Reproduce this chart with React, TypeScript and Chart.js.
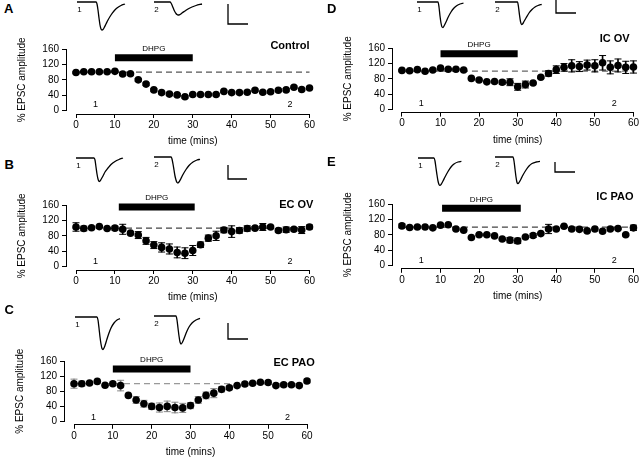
import React, { useEffect, useRef } from "react";
import { Chart, registerables } from "chart.js";

Chart.register(...registerables);

const FONT = "'Liberation Sans', Arial, Helvetica, sans-serif";

// ---------------- data ----------------
const timeMins = [0, 2, 4, 6, 8, 10, 12, 14, 16, 18, 20, 22, 24, 26, 28, 30, 32, 34, 36, 38, 40, 42, 44, 46, 48, 50, 52, 54, 56, 58, 60];
const xTickValues = [0, 10, 20, 30, 40, 50, 60];
const yTickValues = [0, 40, 80, 120, 160];

const controlMean = [99, 101, 101, 101, 101, 102, 95, 96, 80, 69, 54, 47, 43, 41, 36, 42, 42, 42, 42, 50, 47, 47, 48, 53, 48, 49, 53, 54, 61, 55, 59];
const controlErr = [2, 2, 2, 2, 2, 2, 3, 3, 3, 3, 3, 3, 3, 3, 3, 3, 3, 3, 3, 3, 3, 3, 3, 3, 3, 3, 3, 3, 3, 3, 3];
const ecOvMean = [103, 99, 101, 104, 99, 100, 97, 87, 82, 67, 56, 50, 46, 37, 35, 42, 57, 74, 80, 95, 91, 94, 99, 100, 103, 103, 94, 96, 97, 95, 103];
const ecOvErr = [11, 6, 2, 2, 2, 5, 13, 3, 9, 9, 9, 12, 13, 14, 14, 13, 7, 8, 12, 7, 15, 7, 7, 4, 9, 4, 4, 7, 4, 9, 5];
const ecPaoMean = [100, 100, 102, 106, 96, 100, 95, 69, 57, 47, 40, 37, 40, 37, 36, 42, 57, 69, 75, 85, 89, 95, 99, 101, 104, 103, 95, 97, 97, 95, 107];
const ecPaoErr = [12, 7, 2, 2, 2, 5, 14, 2, 9, 9, 8, 12, 14, 14, 12, 8, 9, 9, 12, 7, 5, 2, 5, 2, 2, 5, 2, 5, 2, 2, 5];
const icOvMean = [102, 101, 104, 100, 103, 108, 105, 105, 103, 81, 77, 72, 73, 71, 71, 59, 65, 69, 84, 94, 104, 110, 114, 112, 116, 114, 122, 110, 115, 110, 111];
const icOvErr = [2, 2, 2, 2, 2, 2, 2, 2, 2, 2, 2, 2, 2, 5, 9, 9, 9, 2, 3, 7, 10, 10, 16, 13, 13, 16, 19, 17, 17, 16, 16];
const icPaoMean = [103, 99, 100, 100, 98, 105, 106, 95, 92, 73, 80, 80, 77, 69, 66, 64, 74, 78, 83, 95, 95, 102, 95, 94, 90, 95, 89, 95, 96, 80, 98];
const icPaoErr = [5, 2, 2, 2, 2, 2, 2, 2, 2, 2, 2, 2, 2, 2, 7, 7, 2, 5, 2, 12, 2, 2, 2, 2, 2, 2, 2, 2, 2, 2, 7];

const drugName = "DHPG";
const drugStart = [10, 11, 10, 10, 10.4];
const drugEnd = [30, 30.5, 30, 30, 30.8];
const baselinePct = 100;
const recordingLabels = ["1", "2"];
const recordingTimes = [5, 55];

// sample EPSC traces: [time, current] (arbitrary units)
const traceA1: [number, number][] = [[0, 0], [19, 0], [20, -2], [21, -8], [22, -16], [23, -23], [24, -27], [25, -28], [26, -27.5], [27, -26], [29, -22], [31, -18], [34, -13], [37, -9], [40, -6], [44, -3.5], [48, -2]];
const traceA2: [number, number][] = [[0, 0], [16, 0], [17, -1], [18, -3], [19, -5.5], [20, -8], [21, -10], [22, -11.5], [23, -12.5], [24, -13], [25, -13], [26, -12.5], [28, -11], [31, -9], [34, -7], [38, -5], [42, -3.5], [48, -2]];
const traceB1: [number, number][] = [[0, 0], [18, 0], [19, -2], [20, -9], [21, -16], [22, -21], [23, -23.5], [24, -23], [25, -21.5], [27, -18], [29, -14], [32, -10], [35, -6.5], [39, -3.5], [43, -1.5], [47, 0]];
const traceB2: [number, number][] = [[0, 0], [17, 0], [18, -2], [19, -7], [20, -13], [21, -19], [22, -23], [23, -25.5], [24, -26], [25, -25], [27, -21.5], [29, -17.5], [32, -12.5], [35, -8.5], [39, -5], [43, -3], [46, -2.3]];
const traceC1: [number, number][] = [[0, 0], [22, 0], [23, -3], [24, -11], [25, -20], [26, -27], [27, -31.5], [28, -32.5], [29, -31], [30, -28.5], [32, -22], [34, -16], [36, -11], [39, -6], [42, -3], [45, -1.6]];
const traceC2: [number, number][] = [[0, 0], [22, 0], [23, -4], [24, -12], [25, -20], [26, -26], [27, -28], [28, -27], [29, -25], [31, -20], [33, -15], [35, -11], [38, -7], [42, -4], [46, -2.3]];
const traceD1: [number, number][] = [[0, 0], [21, 0], [22, -5], [23, -14], [24, -21], [25, -25], [26, -25.5], [27, -24], [29, -20], [31, -15.5], [34, -10], [37, -6], [40, -3.5], [43, -2], [46.5, -1]];
const traceD2: [number, number][] = [[0, 0], [22.5, 0], [23.5, -5], [24.5, -13], [25.5, -19.5], [26.5, -22.5], [27.5, -22], [29, -19.5], [31, -16], [34, -11], [37, -7.5], [40, -5], [43, -3.5], [46.7, -2.3]];
const traceE1: [number, number][] = [[0, 0], [16, 0], [17, -3], [18, -10], [19, -17], [20, -23], [21, -26.5], [22, -27.4], [23, -26.5], [25, -23], [27, -19], [30, -13.5], [33, -9], [36, -6], [40, -4], [43.4, -3.4]];
const traceE2: [number, number][] = [[0, 0], [18, 0], [19, -4], [20, -12], [21, -20], [22, -25.5], [23, -26.7], [24, -25.5], [26, -22], [28, -18], [31, -13], [34, -9], [37, -6.5], [41, -5], [45, -4.4]];

const scaleBarTime = [20, 19, 20, 20, 20];
const scaleBarAmp = [20, 14, 16, 13, 10];

// ---------------- layout ----------------
type TraceSpec = { data: [number, number][]; x: number; y: number };
type PanelSpec = {
  letter: string; title: string; mean: number[]; err: number[]; idx: number;
  x0: number; x60: number; y160: number; y0: number;
  letterPos: [number, number]; titleAt: [number, number]; drugLevel: number; recLabelY: number;
  dash: string; errColor: string;
  traces: TraceSpec[]; bar: { x: number; y: number };
};

const panels: PanelSpec[] = [
  { letter: "A", title: "Control", mean: controlMean, err: controlErr, idx: 0,
    x0: 76, x60: 309.5, y160: 49, y0: 110.7, letterPos: [4, 2], titleAt: [60, 168], drugLevel: 137, recLabelY: 17,
    dash: "#555", errColor: "#000",
    traces: [{ data: traceA1, x: 77, y: 2 }, { data: traceA2, x: 154, y: 2 }], bar: { x: 228, y: 4 } },
  { letter: "B", title: "EC OV", mean: ecOvMean, err: ecOvErr, idx: 1,
    x0: 76, x60: 309.5, y160: 205, y0: 266.7, letterPos: [4.5, 158], titleAt: [61, 160], drugLevel: 155, recLabelY: 13,
    dash: "#444", errColor: "#000",
    traces: [{ data: traceB1, x: 76, y: 158.3 }, { data: traceB2, x: 154, y: 156.7 }], bar: { x: 228, y: 165 } },
  { letter: "C", title: "EC PAO", mean: ecPaoMean, err: ecPaoErr, idx: 2,
    x0: 74, x60: 307, y160: 361, y0: 421.5, letterPos: [4.5, 302.5], titleAt: [62, 155], drugLevel: 139, recLabelY: 11,
    dash: "#999", errColor: "#888",
    traces: [{ data: traceC1, x: 75, y: 316.7 }, { data: traceC2, x: 154, y: 316 }], bar: { x: 228, y: 323 } },
  { letter: "D", title: "IC OV", mean: icOvMean, err: icOvErr, idx: 3,
    x0: 402, x60: 635, y160: 48.3, y0: 109.3, letterPos: [327, 2], titleAt: [59, 184], drugLevel: 146, recLabelY: 14,
    dash: "#666", errColor: "#000",
    traces: [{ data: traceD1, x: 416.7, y: 1.7 }, { data: traceD2, x: 495, y: 1.7 }], bar: { x: 556, y: 0 } },
  { letter: "E", title: "IC PAO", mean: icPaoMean, err: icPaoErr, idx: 4,
    x0: 402, x60: 635, y160: 204, y0: 265.5, letterPos: [327, 155], titleAt: [60, 178], drugLevel: 149, recLabelY: 12.5,
    dash: "#444", errColor: "#000",
    traces: [{ data: traceE1, x: 418.3, y: 158.3 }, { data: traceE2, x: 495, y: 157.3 }], bar: { x: 555, y: 162 } },
];

type TextItem = { text: string; x: number; y: number; size: number; bold?: boolean; align?: CanvasTextAlign };

function textPlugin(items: TextItem[]) {
  return {
    id: "panelText",
    afterDatasetsDraw(chart: any) {
      const ctx = chart.ctx;
      const xs = chart.scales.x;
      const ys = chart.scales.y;
      ctx.save();
      for (const it of items) {
        ctx.font = `${it.bold ? "bold " : ""}${it.size}px ${FONT}`;
        ctx.fillStyle = "#000";
        ctx.textAlign = it.align || "center";
        ctx.textBaseline = "middle";
        ctx.fillText(it.text, xs.getPixelForValue(it.x), ys.getPixelForValue(it.y));
      }
      ctx.restore();
    },
  };
}

function MainPlot({ p }: { p: PanelSpec }) {
  const ref = useRef<HTMLCanvasElement>(null);
  const yLine = p.x0 - 10;
  const xLine = p.y0 + 3.3;
  const L = Math.round(yLine - 66);
  const T = Math.round(p.y160 - 20);
  const R = Math.min(640, Math.round(p.x60 + 10));
  const B = Math.round(xLine + 34);
  const W = R - L;
  const H = B - T;

  useEffect(() => {
    const yW = yLine - L;
    const xH = B - xLine;
    const pts = timeMins.map((t, i) => ({ x: t, y: p.mean[i] }));
    const caps = [
      ...timeMins.map((t, i) => ({ x: t, y: p.mean[i] + p.err[i] })),
      ...timeMins.map((t, i) => ({ x: t, y: p.mean[i] - p.err[i] })),
    ];
    const stems = timeMins.map((t, i) => ({ x: t, y: [p.mean[i] - p.err[i], p.mean[i] + p.err[i]] }));
    const ds = drugStart[p.idx];
    const de = drugEnd[p.idx];
    const items: TextItem[] = [
      { text: drugName, x: (ds + de) / 2, y: p.drugLevel + 23, size: 8 },
      { text: recordingLabels[0], x: recordingTimes[0], y: p.recLabelY, size: 9 },
      { text: recordingLabels[1], x: recordingTimes[1], y: p.recLabelY, size: 9 },
      { text: p.title, x: p.titleAt[0], y: p.titleAt[1], size: 11, bold: true, align: "right" },
    ];
    const axisFont = { size: 10, family: FONT };
    const chart = new Chart(ref.current as HTMLCanvasElement, {
      type: "scatter",
      data: {
        datasets: [
          { type: "scatter", label: "mean", data: pts, pointRadius: 3.8, pointBackgroundColor: "#000", pointBorderWidth: 0, backgroundColor: "#000", order: 0, clip: false } as any,
          { type: "scatter", label: "caps", data: caps, pointStyle: "line", pointRadius: 3.5, pointBorderColor: p.errColor, borderColor: p.errColor, pointBorderWidth: 1, order: 1, clip: false } as any,
          { type: "bar", label: "sem", data: stems, backgroundColor: p.errColor, borderWidth: 0, barThickness: 1, order: 2, clip: false } as any,
          { type: "line", label: "baseline", data: [{ x: timeMins[0], y: baselinePct }, { x: timeMins[timeMins.length - 1], y: baselinePct }], borderColor: p.dash, borderWidth: 1.2, borderDash: [6, 4], pointRadius: 0, order: 3, clip: false } as any,
          { type: "line", label: drugName, data: [{ x: ds, y: p.drugLevel }, { x: de, y: p.drugLevel }], borderColor: "#000", borderWidth: 7, borderCapStyle: "butt", pointRadius: 0, order: 4, clip: false } as any,
        ],
      },
      options: {
        animation: false,
        responsive: false,
        devicePixelRatio: 1,
        events: [],
        layout: { padding: { left: 0, top: p.y160 - T, right: R - p.x60, bottom: 0 } },
        plugins: { legend: { display: false }, tooltip: { enabled: false } },
        scales: {
          x: {
            type: "linear", position: "bottom", stack: "xs", stackWeight: p.x60 - p.x0, weight: 2,
            min: 0, max: 60, offset: false,
            afterBuildTicks: (s: any) => { s.ticks = xTickValues.map((v) => ({ value: v })); },
            afterFit: (s: any) => { s.height = xH; },
            border: { display: true, color: "#000", width: 1 },
            grid: { display: true, drawOnChartArea: false, drawTicks: true, tickLength: 4, color: "#000", offset: false },
            ticks: { color: "#000", font: axisFont, padding: 1, maxRotation: 0, autoSkip: false },
            title: { display: true, text: "time (mins)", color: "#000", font: axisFont, padding: { top: 0, bottom: 1 } },
          },
          xGap: {
            type: "linear", position: "bottom", stack: "xs", stackWeight: p.x0 - yLine, weight: 1, min: 0, max: 1, display: false,
            afterFit: (s: any) => { s.height = xH; },
          },
          y: {
            type: "linear", position: "left", stack: "ys", stackWeight: p.y0 - p.y160, weight: 2,
            min: 0, max: 160,
            afterBuildTicks: (s: any) => { s.ticks = yTickValues.map((v) => ({ value: v })); },
            afterFit: (s: any) => { s.width = yW; },
            border: { display: true, color: "#000", width: 1 },
            grid: { display: true, drawOnChartArea: false, drawTicks: true, tickLength: 4, color: "#000" },
            ticks: { color: "#000", font: axisFont, padding: 3, autoSkip: false },
            title: { display: true, text: "% EPSC amplitude", color: "#000", font: axisFont, padding: { top: 16, bottom: 0 } },
          },
          yGap: {
            type: "linear", position: "left", stack: "ys", stackWeight: xLine - p.y0, weight: 1, min: 0, max: 1, display: false,
            afterFit: (s: any) => { s.width = yW; },
          },
        } as any,
      },
      plugins: [textPlugin(items)],
    } as any);
    return () => chart.destroy();
  }, []);

  return <canvas ref={ref} width={W} height={H} style={{ position: "absolute", left: L, top: T, width: W, height: H }} />;
}

function TracePlot({ t, label }: { t: TraceSpec; label: string }) {
  const ref = useRef<HTMLCanvasElement>(null);
  const W = 52;
  const H = 38;
  const L = Math.round(t.x - 1);
  const T = Math.round(t.y - 4);
  useEffect(() => {
    const chart = new Chart(ref.current as HTMLCanvasElement, {
      type: "line",
      data: {
        datasets: [{
          data: t.data.map(([x, y]) => ({ x, y })), borderColor: "#000", borderWidth: 1.3,
          pointRadius: 0, cubicInterpolationMode: "monotone", clip: false,
        }],
      },
      options: {
        animation: false, responsive: false, devicePixelRatio: 1, events: [],
        layout: { padding: 0 },
        plugins: { legend: { display: false }, tooltip: { enabled: false } },
        scales: {
          x: { type: "linear", min: -1, max: W - 1, display: false },
          y: { type: "linear", min: -(H - 4), max: 4, display: false },
        },
      },
      plugins: [textPlugin([{ text: label, x: 2.5, y: -8, size: 8 }])],
    } as any);
    return () => chart.destroy();
  }, []);
  return <canvas ref={ref} width={W} height={H} style={{ position: "absolute", left: L, top: T, width: W, height: H }} />;
}

function ScaleBar({ p }: { p: PanelSpec }) {
  const ref = useRef<HTMLCanvasElement>(null);
  const ms = scaleBarTime[p.idx];
  const pa = scaleBarAmp[p.idx];
  const W = ms + 4;
  const H = pa + 4;
  const L = Math.round(p.bar.x - 2);
  const T = Math.round(p.bar.y - 2);
  useEffect(() => {
    const chart = new Chart(ref.current as HTMLCanvasElement, {
      type: "line",
      data: {
        datasets: [{
          data: [{ x: 0, y: 0 }, { x: 0, y: -pa }, { x: ms, y: -pa }], borderColor: "#000", borderWidth: 1.3,
          pointRadius: 0, tension: 0, borderJoinStyle: "miter", clip: false,
        }],
      },
      options: {
        animation: false, responsive: false, devicePixelRatio: 1, events: [],
        layout: { padding: 0 },
        plugins: { legend: { display: false }, tooltip: { enabled: false } },
        scales: {
          x: { type: "linear", min: -2, max: ms + 2, display: false },
          y: { type: "linear", min: -pa - 2, max: 2, display: false },
        },
      },
    } as any);
    return () => chart.destroy();
  }, []);
  return <canvas ref={ref} width={W} height={H} style={{ position: "absolute", left: L, top: T, width: W, height: H }} />;
}

export default function App() {
  return (
    <div style={{ position: "absolute", left: 0, top: 0, width: 640, height: 458, overflow: "hidden", background: "#fff", fontFamily: FONT }}>
      {panels.map((p) => (
        <React.Fragment key={p.letter}>
          <div style={{ position: "absolute", left: p.letterPos[0], top: p.letterPos[1], fontSize: 13, lineHeight: "14px", fontWeight: "bold", color: "#000" }}>{p.letter}</div>
          <MainPlot p={p} />
          {p.traces.map((t, i) => <TracePlot key={i} t={t} label={recordingLabels[i]} />)}
          <ScaleBar p={p} />
        </React.Fragment>
      ))}
    </div>
  );
}
